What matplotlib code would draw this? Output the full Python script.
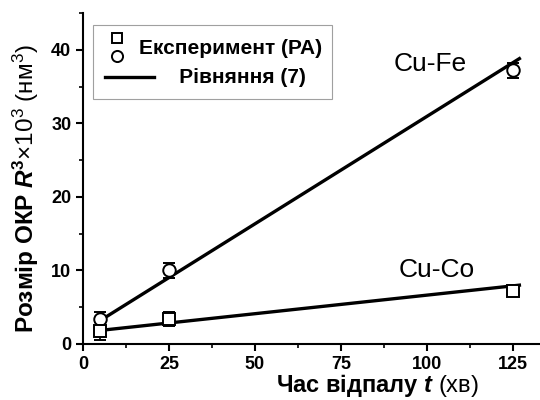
import matplotlib
matplotlib.use("Agg")
import matplotlib.pyplot as plt
from matplotlib.legend_handler import HandlerBase
from matplotlib.lines import Line2D
from matplotlib.ticker import MultipleLocator

plt.rcParams['font.family'] = ['Liberation Sans', 'DejaVu Sans']
plt.rcParams['mathtext.fontset'] = 'custom'
plt.rcParams['mathtext.rm'] = 'Liberation Sans'
plt.rcParams['mathtext.bf'] = 'Liberation Sans:bold'
plt.rcParams['mathtext.bfit'] = 'Liberation Sans:bold:italic'
plt.rcParams['mathtext.it'] = 'Liberation Sans:italic'

# data
t_exp = [5, 25, 125]
fe_vals = [3.4, 10.0, 37.2]
fe_err = [0.9, 1.0, 1.0]
co_vals = [1.8, 3.4, 7.2]
co_err = [1.2, 1.0, 0.3]
t_fit = [5, 127]
fe_fit = [3.2, 38.8]
co_fit = [1.85, 8.0]

fig = plt.figure(figsize=(5.4, 4.0), dpi=100)
ax = fig.add_axes([0.154, 0.14, 0.846, 0.8275])

ax.plot(t_fit, fe_fit, color='black', lw=2.4, zorder=3)
ax.plot(t_fit, co_fit, color='black', lw=2.4, zorder=3)
ax.errorbar(t_exp, fe_vals, yerr=fe_err, fmt='o', mfc='white', mec='black',
            ms=9, mew=1.4, ecolor='black', elinewidth=1.2, capsize=4.5, capthick=1.4, zorder=4)
ax.errorbar(t_exp, co_vals, yerr=co_err, fmt='s', mfc='white', mec='black',
            ms=8, mew=1.4, ecolor='black', elinewidth=1.2, capsize=4.5, capthick=1.4, zorder=4)

ax.set_xlim(0, 133)
ax.set_ylim(0, 45)
ax.spines['top'].set_visible(False)
ax.spines['right'].set_visible(False)
ax.spines['left'].set_linewidth(1.5)
ax.spines['bottom'].set_linewidth(1.5)
ax.xaxis.set_major_locator(MultipleLocator(25))
ax.xaxis.set_minor_locator(MultipleLocator(12.5))
ax.yaxis.set_major_locator(MultipleLocator(10))
ax.yaxis.set_minor_locator(MultipleLocator(5))
ax.tick_params(which='major', direction='out', length=5, width=1.5, labelsize=13)
ax.tick_params(which='minor', direction='out', length=3, width=1.2)
for lab in ax.get_xticklabels() + ax.get_yticklabels():
    lab.set_fontweight('bold')

ax.set_xlabel(r"Час відпалу $\mathbfit{t}$ $\mathrm{(хв)}$", fontsize=17, fontweight='bold')
ax.xaxis.set_label_coords(0.643, -0.085)
ax.set_ylabel(r"Розмір ОКР $\mathbfit{R}^{\mathbf{3}}$$\mathrm{×10^{3}\ (нм^{3})}$",
              fontsize=17.5, fontweight='bold')
ax.yaxis.set_label_coords(-0.092, 0.47)

ax.text(101, 38.0, "Cu-Fe", fontsize=19, ha='center', va='center')
ax.text(103, 10.1, "Cu-Co", fontsize=19, ha='center', va='center')


class HandlerStack(HandlerBase):
    def create_artists(self, legend, orig_handle, xdescent, ydescent, width, height, fontsize, trans):
        x = -xdescent + width * 0.55
        sq = Line2D([x], [-ydescent + height * 0.85], marker='s', ms=7, mfc='white', mec='black',
                    mew=1.4, ls='none', transform=trans)
        ci = Line2D([x], [-ydescent + height * 0.15], marker='o', ms=8, mfc='white', mec='black',
                    mew=1.4, ls='none', transform=trans)
        return [sq, ci]


class HandlerLongLine(HandlerBase):
    def create_artists(self, legend, orig_handle, xdescent, ydescent, width, height, fontsize, trans):
        y = -ydescent + height / 2
        x0 = -xdescent + width * 0.1
        ln = Line2D([x0, x0 + width * 1.8], [y, y], color='black', lw=2.4, transform=trans)
        return [ln]


exp_handle = ('exp',)
line_handle = Line2D([], [], color='black', lw=2.4)
leg = ax.legend([exp_handle, line_handle], ["Експеримент (РА)", "       Рівняння (7)"],
                handler_map={tuple: HandlerStack(), Line2D: HandlerLongLine()}, loc='upper left',
                bbox_to_anchor=(0.022, 0.964), borderaxespad=0,
                prop={'weight': 'bold', 'size': 15},
                frameon=True, fancybox=False, edgecolor='#888888', handlelength=1.3,
                handleheight=1.5, labelspacing=0.2, borderpad=0.45, handletextpad=0.45)
leg.get_frame().set_linewidth(0.8)

fig.savefig("out.png", dpi=100)
